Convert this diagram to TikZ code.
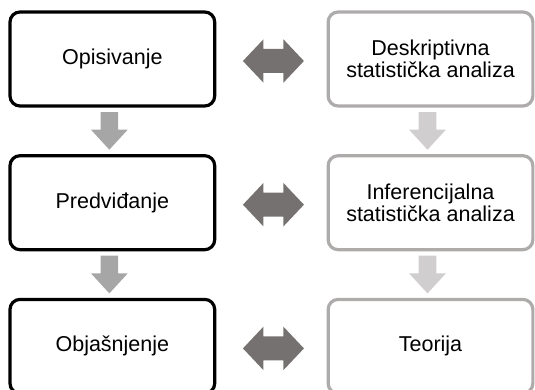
\documentclass[tikz,border=0pt]{standalone}
\usepackage{fontspec}
\setmainfont{Liberation Sans}
\usetikzlibrary{calc}
\definecolor{boxgray}{RGB}{174,171,171}
\definecolor{midgray}{RGB}{166,166,166}
\definecolor{palegray}{RGB}{208,206,206}
\definecolor{arrowgray}{RGB}{118,113,113}
\tikzset{
  stepbox/.style={draw=black,line width=3.2pt,rounded corners=10pt,fill=white,
    minimum width=204.7pt,minimum height=94pt,inner sep=0pt,align=center,
    font=\fontsize{21.5}{22}\selectfont},
  statbox/.style={stepbox,draw=boxgray}
}
% fat arrow pointing down, between two stacked boxes
\newcommand{\drawdownarrow}[3]{
  \path ($(#1.south)!0.5!(#2.north)+(-3,0)$) coordinate (mid);
  \begin{scope}[shift={(mid)}]
  \fill[#3] (-8.85,18.85) -- (8.85,18.85) -- (8.85,1.15) -- (18.35,1.15)
    -- (0,-18.85) -- (-18.35,1.15) -- (-8.85,1.15) -- cycle;
  \end{scope}
}
% fat arrow with two heads, between two boxes side by side
\newcommand{\drawbotharrow}[2]{
  \path ($(#1.east)!0.5!(#2.west)+(2,-2)$) coordinate (mid);
  \begin{scope}[shift={(mid)}]
  \fill[arrowgray] (-30.5,0) -- (-10,21.7) -- (-10,12) -- (10,12) -- (10,21.7)
    -- (30.5,0) -- (10,-21.7) -- (10,-12) -- (-10,-12) -- (-10,-21.7) -- cycle;
  \end{scope}
}
\begin{document}
\begin{tikzpicture}[x=1pt,y=1pt]
  \useasboundingbox (0,0) rectangle (535,389);

  \node[stepbox] (opis) at (112.35,330) {Opisivanje};
  \node[statbox] (desk) at (430.5,330) {Deskriptivna\\statistička analiza};

  \node[stepbox] (pred) at (112.35,186.3) {Predviđanje};
  \node[statbox] (infer) at (430.5,186.3) {Inferencijalna\\statistička analiza};

  \node[stepbox] (objas) at (112.35,42.6) {Objašnjenje};
  \node[statbox] (teor) at (430.5,42.6) {Teorija};

  \drawdownarrow{opis}{pred}{midgray}
  \drawdownarrow{pred}{objas}{midgray}
  \drawdownarrow{desk}{infer}{palegray}
  \drawdownarrow{infer}{teor}{palegray}

  \drawbotharrow{opis}{desk}
  \drawbotharrow{pred}{infer}
  \drawbotharrow{objas}{teor}
\end{tikzpicture}
\end{document}
